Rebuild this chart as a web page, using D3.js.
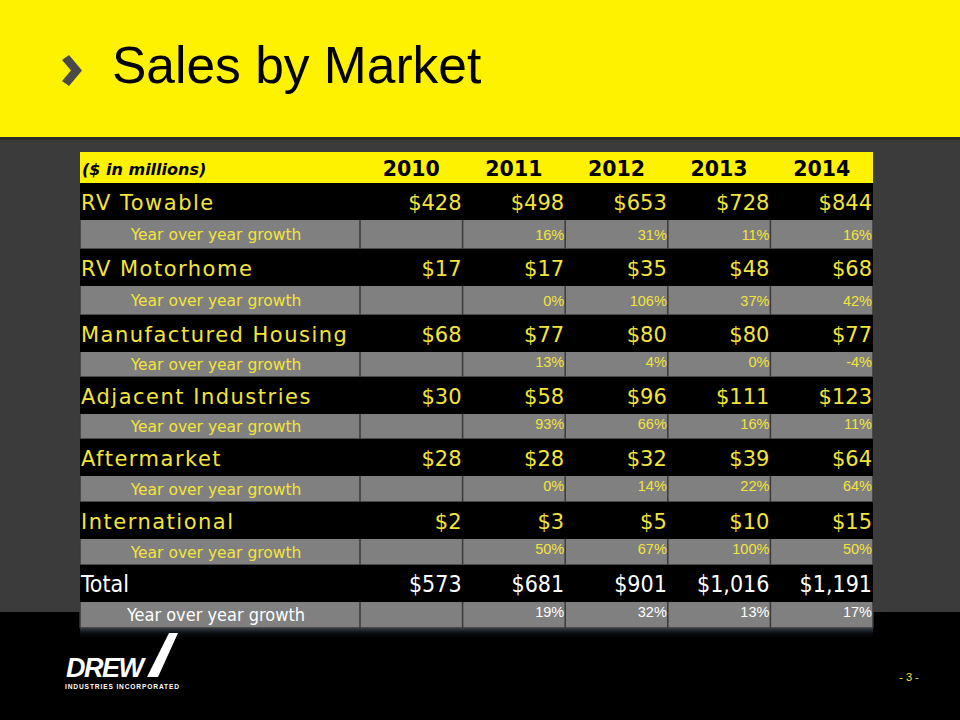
<!DOCTYPE html>
<html>
<head>
<meta charset="utf-8">
<script src="https://cdn.jsdelivr.net/npm/d3@7"></script>
<style>
  html, body { margin: 0; padding: 0; background: #000; }
  svg { display: block; }
</style>
</head>
<body>
<svg id="slide" width="960" height="720"></svg>
<script>
// ---------------- Data ----------------
const years = ["2010", "2011", "2012", "2013", "2014"];
const markets = ["RV Towable", "RV Motorhome", "Manufactured Housing",
  "Adjacent Industries", "Aftermarket", "International", "Total"];

const rvTowable     = [428, 498, 653, 728, 844];
const rvMotorhome   = [17, 17, 35, 48, 68];
const manufHousing  = [68, 77, 80, 80, 77];
const adjacent      = [30, 58, 96, 111, 123];
const aftermarket   = [28, 28, 32, 39, 64];
const international = [2, 3, 5, 10, 15];
const total         = [573, 681, 901, 1016, 1191];

const growthRvTowable     = [null, 16, 31, 11, 16];
const growthRvMotorhome   = [null, 0, 106, 37, 42];
const growthManufHousing  = [null, 13, 4, 0, -4];
const growthAdjacent      = [null, 93, 66, 16, 11];
const growthAftermarket   = [null, 0, 14, 22, 64];
const growthInternational = [null, 50, 67, 100, 50];
const growthTotal         = [null, 19, 32, 13, 17];

const salesRows = [rvTowable, rvMotorhome, manufHousing, adjacent, aftermarket, international, total];
const growthRows = [growthRvTowable, growthRvMotorhome, growthManufHousing,
  growthAdjacent, growthAftermarket, growthInternational, growthTotal];

// ---------------- Layout ----------------
const svg = d3.select("#slide");
const W = 960, H = 720;
const YELLOW = "#fff200";
const TEXT_YEL = "#f3e43c";
const mainFont = "'DejaVu Sans', Verdana, sans-serif";
const condFont = "'DejaVu Sans Condensed', 'DejaVu Sans', sans-serif";

const tableLeft = 80, labelRight = 360, tableRight = 873;
const headerTop = 152, headerH = 31;
const mainH = 37;
const growthH = [29, 29, 25, 25, 26, 26, 26];

const x = d3.scaleBand().domain(years).range([labelRight, tableRight]);

// row tops
const rowTops = [];
let yy = headerTop + headerH;
markets.forEach((m, i) => {
  rowTops.push({ main: yy, growth: yy + mainH });
  yy += mainH + growthH[i];
});
const tableBottom = yy;

const fmtMoney = d3.format("$,");

// ---------------- Background ----------------
svg.append("rect").attr("width", W).attr("height", H).attr("fill", "#000");
svg.append("rect").attr("x", 0).attr("y", 137).attr("width", W).attr("height", 475).attr("fill", "#3b3b3b");
svg.append("rect").attr("x", 0).attr("y", 137).attr("width", W).attr("height", 3).attr("fill", "#2c2c2c");
svg.append("rect").attr("width", W).attr("height", 137).attr("fill", YELLOW);

// title
svg.append("path")
  .attr("d", "M62,60 L69,55 L82,70.5 L69,86 L62,81 L71,70.5 Z")
  .attr("fill", "#4a4a4a");
svg.append("text")
  .attr("x", 112).attr("y", 83)
  .attr("font-family", "'Liberation Sans', Arial, sans-serif")
  .attr("font-size", 51.5)
  .attr("fill", "#000")
  .text("Sales by Market");

// table glow
const defs = svg.append("defs");
const glow = defs.append("linearGradient").attr("id", "glow").attr("x1", 0).attr("x2", 0).attr("y1", 0).attr("y2", 1);
glow.append("stop").attr("offset", "0%").attr("stop-color", "#4a5a70").attr("stop-opacity", 0.7);
glow.append("stop").attr("offset", "100%").attr("stop-color", "#000").attr("stop-opacity", 0);
svg.append("rect")
  .attr("x", tableLeft).attr("y", tableBottom).attr("width", tableRight - tableLeft).attr("height", 10)
  .attr("fill", "url(#glow)");

// ---------------- Header ----------------
const table = svg.append("g");

table.append("rect")
  .attr("x", tableLeft).attr("y", headerTop)
  .attr("width", tableRight - tableLeft).attr("height", headerH)
  .attr("fill", YELLOW);

table.append("text")
  .attr("x", tableLeft + 2).attr("y", headerTop + 23)
  .attr("font-family", mainFont).attr("font-size", 16)
  .attr("font-weight", "bold").attr("font-style", "italic")
  .attr("fill", "#000")
  .text("($ in millions)");

table.selectAll("text.year")
  .data(years)
  .enter()
  .append("text")
  .attr("class", "year")
  .attr("x", d => x(d) + x.bandwidth() / 2)
  .attr("y", headerTop + 24)
  .attr("text-anchor", "middle")
  .attr("font-family", mainFont).attr("font-size", 20.5).attr("font-weight", "bold")
  .attr("fill", "#000")
  .text(d => d);

// ---------------- Rows ----------------
markets.forEach((market, i) => {
  const isTotal = market === "Total";
  const col = isTotal ? "#fff" : TEXT_YEL;
  const font = isTotal ? condFont : mainFont;
  const top = rowTops[i].main;
  const gTop = rowTops[i].growth;
  const gh = growthH[i];

  // main row
  table.append("rect")
    .attr("x", tableLeft).attr("y", top)
    .attr("width", tableRight - tableLeft).attr("height", mainH)
    .attr("fill", "#000");

  table.append("text")
    .attr("x", tableLeft + 1).attr("y", top + 27)
    .attr("font-family", font).attr("font-size", isTotal ? 23 : 21)
    .attr("font-stretch", isTotal ? "condensed" : "normal")
    .attr("letter-spacing", isTotal ? 0 : 1.5)
    .attr("fill", col)
    .text(market);

  table.selectAll(null)
    .data(salesRows[i].map((v, j) => ({ year: years[j], v })))
    .enter()
    .append("text")
    .attr("x", d => x(d.year) + x.bandwidth() - 1)
    .attr("y", top + 27)
    .attr("text-anchor", "end")
    .attr("font-family", font).attr("font-size", isTotal ? 23 : 21)
    .attr("font-stretch", isTotal ? "condensed" : "normal")
    .attr("fill", col)
    .text(d => fmtMoney(d.v));

  // growth row
  table.append("rect")
    .attr("x", tableLeft).attr("y", gTop)
    .attr("width", tableRight - tableLeft).attr("height", gh)
    .attr("fill", "#808080");

  // cell borders
  const edges = [tableLeft, labelRight].concat(years.map(y => x(y) + x.bandwidth()));
  table.selectAll(null)
    .data(edges)
    .enter()
    .append("line")
    .attr("x1", d => d).attr("x2", d => d)
    .attr("y1", gTop).attr("y2", gTop + gh)
    .attr("stroke", "#3a3a3a").attr("stroke-width", 1.5);
  table.append("line")
    .attr("x1", tableLeft).attr("x2", tableRight)
    .attr("y1", gTop + gh).attr("y2", gTop + gh)
    .attr("stroke", "#3a3a3a").attr("stroke-width", 1.5);

  table.append("text")
    .attr("x", 216)
    .attr("y", gTop + gh / 2 + 5.5)
    .attr("text-anchor", "middle")
    .attr("font-family", font).attr("font-size", isTotal ? 18 : 15.5)
    .attr("font-stretch", isTotal ? "condensed" : "normal")
    .attr("fill", col)
    .text("Year over year growth");

  table.selectAll(null)
    .data(growthRows[i].map((v, j) => ({ year: years[j], v })).filter(d => d.v !== null))
    .enter()
    .append("text")
    .attr("x", d => x(d.year) + x.bandwidth() - 1)
    .attr("y", gTop + (gh >= 29 ? 20 : 14.5))
    .attr("text-anchor", "end")
    .attr("font-family", "'Liberation Sans', Arial, sans-serif")
    .attr("font-size", 14.5)
    .attr("fill", col)
    .text(d => d.v + "%");
});

// ---------------- Footer ----------------
const logo = svg.append("g").attr("fill", "#fff");
logo.append("text")
  .attr("x", 66).attr("y", 677)
  .attr("font-family", "'Liberation Sans', Arial, sans-serif")
  .attr("font-size", 27).attr("font-weight", "bold").attr("font-style", "italic")
  .attr("letter-spacing", -1.5)
  .text("DREW");
logo.append("path")
  .attr("d", "M147,677 L158,677 L178,633 L169,633 Z");
logo.append("text")
  .attr("x", 65).attr("y", 689)
  .attr("font-family", "'Liberation Sans', Arial, sans-serif")
  .attr("font-size", 6.6).attr("font-weight", "bold")
  .attr("textLength", 114)
  .text("INDUSTRIES INCORPORATED");

svg.append("text")
  .attr("x", 909).attr("y", 681)
  .attr("text-anchor", "middle")
  .attr("font-family", "'Liberation Sans', Arial, sans-serif")
  .attr("font-size", 11)
  .attr("fill", TEXT_YEL)
  .text("- 3 -");
</script>
</body>
</html>
